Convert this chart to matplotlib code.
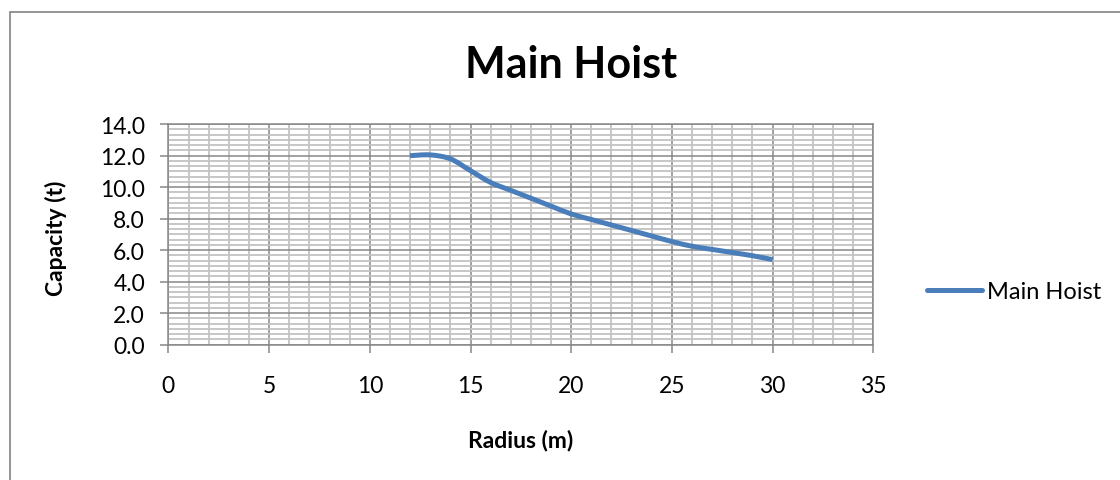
import numpy as np
import matplotlib
matplotlib.use("Agg")
import matplotlib.pyplot as plt
from matplotlib.patches import Rectangle, PathPatch
from matplotlib.path import Path
from matplotlib.lines import Line2D
from matplotlib.ticker import MultipleLocator, FixedLocator, FormatStrFormatter

plt.rcParams['font.family'] = ['Lato', 'DejaVu Sans']

# ---- data ----
radius = [12, 13, 14, 15, 16, 17, 18, 19, 20, 21, 22, 23, 24, 25, 26, 27, 28, 29, 30]
capacity = [12.0, 12.05, 11.8, 11.05, 10.3, 9.8, 9.3, 8.8, 8.3, 7.95, 7.6, 7.25, 6.9,
            6.55, 6.25, 6.05, 5.85, 5.65, 5.4]
series_name = "Main Hoist"
title = "Main Hoist"
xlabel = "Radius (m)"
ylabel = "Capacity (t)"

W, H = 1120, 481
fig = plt.figure(figsize=(W / 100, H / 100), dpi=100)

def fx(px):
    return px / W

def fy(py):
    return 1 - py / H

# outer chart frame
fig.patches.append(Rectangle((fx(10), -0.2), 1.5, fy(13) + 0.2, transform=fig.transFigure,
                             fill=False, edgecolor='#8c8c8c', linewidth=1.3))

ax = fig.add_axes([fx(168.4), fy(345.7), fx(873.3) - fx(168.4), fy(125.2) - fy(345.7)])

major_c = '#878787'
minor_c = '#c3c3c3'
line_c = '#4a7ebb'

ax.set_xlim(0, 35)
ax.set_ylim(0, 14)
ax.xaxis.set_major_locator(MultipleLocator(5))
ax.xaxis.set_minor_locator(MultipleLocator(1))
ax.yaxis.set_major_locator(MultipleLocator(2))
ax.yaxis.set_minor_locator(FixedLocator(np.linspace(0, 14, 43)))
ax.yaxis.set_major_formatter(FormatStrFormatter('%.1f'))

ax.grid(which='minor', color=minor_c, linewidth=1.3)
ax.grid(which='major', color=major_c, linewidth=1.1)
ax.set_axisbelow(True)

for s in ax.spines.values():
    s.set_color(major_c)
    s.set_linewidth(1.1)

ax.tick_params(which='major', direction='out', length=5.8, width=1.1, color=major_c,
               labelsize=16.5, labelcolor='black')
ax.tick_params(axis='y', which='major', pad=11)
ax.tick_params(axis='x', which='major', pad=16)
ax.tick_params(which='minor', length=0)

# smoothed line through the data points (Catmull-Rom as cubic Bezier)
P = np.column_stack([radius, capacity]).astype(float)
n = len(P)
verts = [tuple(P[0])]
codes = [Path.MOVETO]
for i in range(n - 1):
    p0 = P[i - 1] if i > 0 else P[i]
    p1 = P[i]
    p2 = P[i + 1]
    p3 = P[i + 2] if i + 2 < n else P[i + 1]
    c1 = p1 + (p2 - p0) / 6.0
    c2 = p2 - (p3 - p1) / 6.0
    verts += [tuple(c1), tuple(c2), tuple(p2)]
    codes += [Path.CURVE4] * 3
ax.add_patch(PathPatch(Path(verts, codes), fill=False, edgecolor=line_c, linewidth=3.6,
                       capstyle='butt', joinstyle='round'))

fig.text(fx(571), fy(78.3), title, ha='center', va='baseline', fontsize=31,
         fontweight='bold')
fig.text(fx(520.5), fy(441), xlabel, ha='center', va='center', fontsize=16.5,
         fontweight='bold')
fig.text(fx(56), fy(238), ylabel, ha='center', va='center', rotation=90, fontsize=16.5,
         fontweight='bold')

handle = Line2D([], [], color=line_c, linewidth=3.6, solid_capstyle='round')
ax.legend([handle], [series_name], loc='center left',
          bbox_to_anchor=(fx(926.7), fy(292.7)), bbox_transform=fig.transFigure,
          frameon=False, fontsize=17, handlelength=2.35, handletextpad=0.22,
          borderpad=0, borderaxespad=0)

fig.savefig('out.png', dpi=100)
